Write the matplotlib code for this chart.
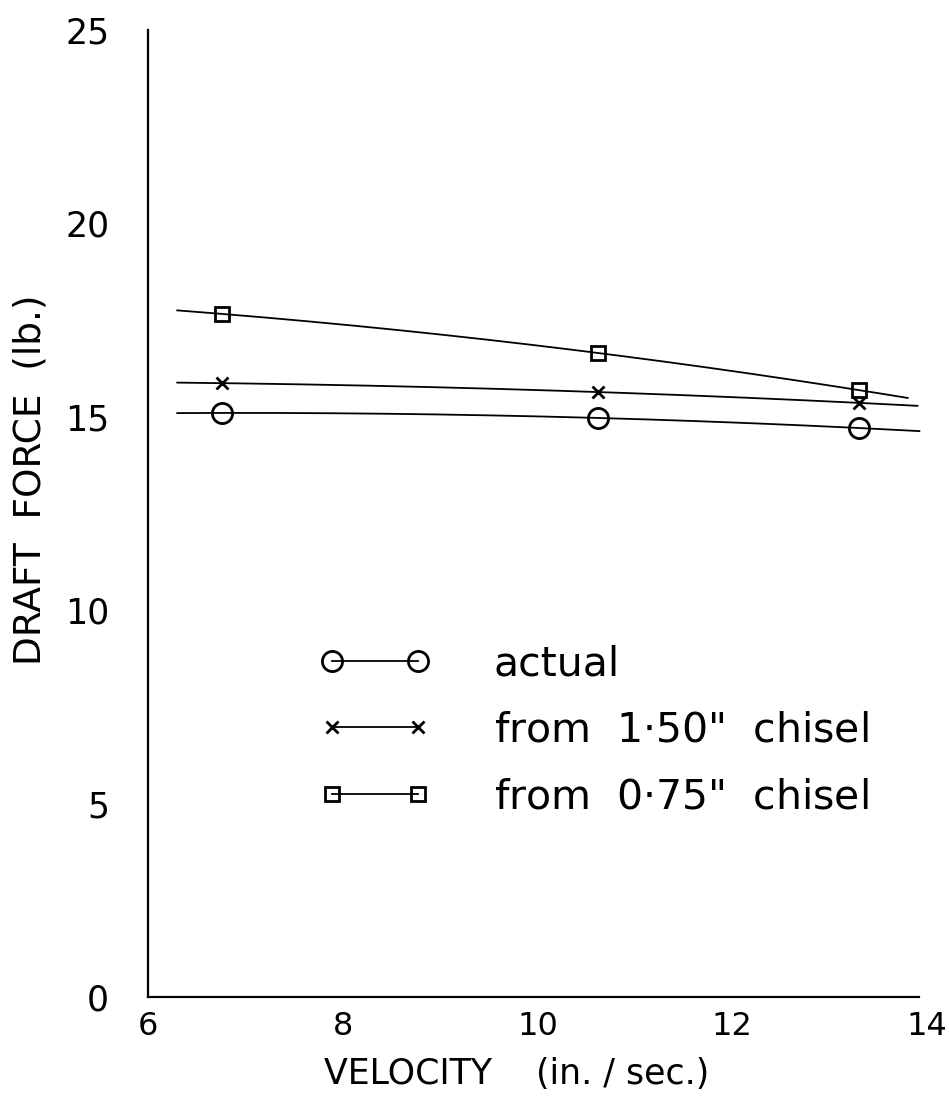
import numpy as np
import matplotlib.pyplot as plt
from matplotlib.lines import Line2D

# velocity (in./sec.) at which each run was made
velocity = [6.76, 10.62, 13.30]

# draft force (lb.)
actual = [15.10, 14.97, 14.71]
from_150 = [15.87, 15.64, 15.36]
from_075 = [17.66, 16.65, 15.69]

# extent of the smoothed curve drawn through each series
curve_range = {
    'actual': (6.3, 13.92),
    'from_150': (6.3, 13.90),
    'from_075': (6.3, 13.80),
}

series = [
    ('actual', actual, 'o', 14.5, 'actual'),
    ('from_150', from_150, 'x', 8, 'from  1$\\cdot$50"  chisel'),
    ('from_075', from_075, 's', 10.5, 'from  0$\\cdot$75"  chisel'),
]

plt.rcParams['font.family'] = ['DejaVu Sans']

fig = plt.figure(figsize=(9.49, 11.03), dpi=100)
ax = fig.add_axes([0.156, 0.0961, 0.821, 0.8767])

handles = []
for key, values, marker, msize, label in series:
    coeffs = np.polyfit(velocity, values, 2)
    lo, hi = curve_range[key]
    xs = np.linspace(lo, hi, 200)
    ax.plot(xs, np.polyval(coeffs, xs), color='black', lw=1.3)
    ax.plot(velocity, values, linestyle='none', marker=marker, markersize=msize,
            markerfacecolor='none', markeredgecolor='black', markeredgewidth=2.0)
    handles.append(Line2D([], [], color='black', lw=1.3, marker=marker, markersize=msize,
                          markerfacecolor='none', markeredgecolor='black',
                          markeredgewidth=2.0, label=label))

ax.legend(handles=handles, loc='upper left', bbox_to_anchor=(0.22, 0.365),
          borderaxespad=0, borderpad=0, frameon=False, numpoints=2,
          handlelength=2.7, handletextpad=1.55, labelspacing=0.65, fontsize=29.5)

ax.set_xlim(6, 14)
ax.set_ylim(0, 25)
ax.set_xticks([6, 8, 10, 12, 14])
ax.set_yticks([0, 5, 10, 15, 20, 25])
ax.tick_params(length=0)
ax.tick_params(axis='x', pad=10, labelsize=23)
ax.tick_params(axis='y', pad=28, labelsize=25)

ax.spines['top'].set_visible(False)
ax.spines['right'].set_visible(False)
ax.spines['left'].set_linewidth(1.6)
ax.spines['bottom'].set_linewidth(1.6)
ax.spines['bottom'].set_bounds(6, 13.92)

ax.set_xlabel('VELOCITY    (in. / sec.)', fontsize=25)
ax.xaxis.set_label_coords(0.473, -0.062)
ax.set_ylabel('DRAFT  FORCE  (lb.)', fontsize=27)
ax.yaxis.set_label_coords(-0.128, 0.535)

fig.savefig('out.png', dpi=100)
